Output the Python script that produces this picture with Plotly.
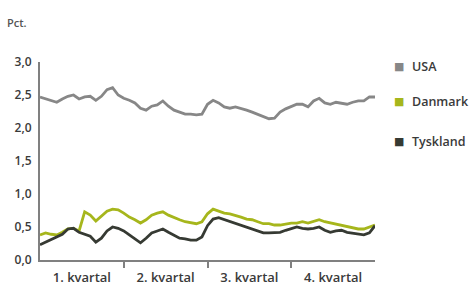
import plotly.graph_objects as go

# Observations (61 evenly spaced points across the year)
periods = list(range(61))
usa = [2.47, 2.44, 2.42, 2.39, 2.44, 2.48, 2.50, 2.44, 2.47, 2.48,
       2.42, 2.48, 2.58, 2.61, 2.50, 2.45, 2.42, 2.38, 2.30, 2.27,
       2.33, 2.35, 2.41, 2.33, 2.27, 2.24, 2.21, 2.21, 2.20, 2.21,
       2.36, 2.42, 2.38, 2.32, 2.30, 2.32, 2.30, 2.27, 2.24, 2.21,
       2.18, 2.14, 2.15, 2.24, 2.29, 2.32, 2.36, 2.36, 2.32, 2.41,
       2.45, 2.38, 2.36, 2.39, 2.38, 2.36, 2.39, 2.41, 2.41, 2.47, 2.47]
danmark = [0.38, 0.41, 0.39, 0.38, 0.42, 0.47, 0.48, 0.44, 0.73, 0.68,
           0.59, 0.67, 0.74, 0.77, 0.76, 0.71, 0.65, 0.61, 0.56, 0.61,
           0.68, 0.71, 0.73, 0.68, 0.64, 0.61, 0.58, 0.56, 0.55, 0.58,
           0.70, 0.77, 0.74, 0.71, 0.70, 0.68, 0.65, 0.62, 0.61, 0.58,
           0.55, 0.55, 0.53, 0.53, 0.55, 0.56, 0.56, 0.58, 0.56, 0.58,
           0.61, 0.58, 0.56, 0.55, 0.52, 0.50, 0.48, 0.47, 0.47, 0.50, 0.53]
tyskland = [0.23, 0.27, 0.30, 0.35, 0.39, 0.47, 0.48, 0.42, 0.39, 0.36,
            0.27, 0.33, 0.44, 0.50, 0.48, 0.44, 0.38, 0.32, 0.26, 0.33,
            0.41, 0.44, 0.47, 0.42, 0.38, 0.33, 0.32, 0.30, 0.30, 0.35,
            0.52, 0.62, 0.64, 0.61, 0.58, 0.55, 0.53, 0.50, 0.47, 0.44,
            0.41, 0.41, 0.42, 0.42, 0.45, 0.48, 0.50, 0.48, 0.47, 0.48,
            0.50, 0.45, 0.42, 0.44, 0.45, 0.42, 0.41, 0.39, 0.38, 0.41, 0.52]

quarter_labels = ["1. kvartal", "2. kvartal", "3. kvartal", "4. kvartal"]
quarter_centers = [7.5, 22.5, 37.5, 52.5]
quarter_bounds = [15, 30, 45]
y_ticks = [0.0, 0.5, 1.0, 1.5, 2.0, 2.5, 3.0]
y_ticktext = ["0,0", "0,5", "1,0", "1,5", "2,0", "2,5", "3,0"]

series = [("USA", usa, "#878787"), ("Danmark", danmark, "#a6b61c"), ("Tyskland", tyskland, "#363a33")]

FONT = "'Open Sans', Lato, sans-serif"
TXT = "#3a3a3a"
fig = go.Figure()
for name, vals, col in series:
    fig.add_trace(go.Scatter(x=periods, y=vals, mode="lines", name=name,
                             line=dict(color=col, width=2.8), showlegend=False,
                             hoverinfo="skip"))

# Legend as annotations
legend_y = [0.975, 0.80, 0.60]
for (name, vals, col), ly in zip(series, legend_y):
    fig.add_annotation(xref="paper", yref="paper", x=1.052, y=ly, text="■",
                       showarrow=False, xanchor="left", yanchor="middle",
                       font=dict(size=11, color=col, family="DejaVu Sans"))
    fig.add_annotation(xref="paper", yref="paper", x=1.103, y=ly, text=name,
                       showarrow=False, xanchor="left", yanchor="middle",
                       font=dict(size=12.5, color=TXT, family=FONT, weight=600))

fig.add_annotation(xref="paper", yref="paper", x=-0.103, y=1.2, text="Pct.",
                   showarrow=False, xanchor="left", yanchor="middle",
                   font=dict(size=11, color="#555555", family=FONT, weight=600))

fig.update_layout(
    width=475, height=289,
    margin=dict(l=40, r=100, t=62, b=29, autoexpand=False),
    plot_bgcolor="white", paper_bgcolor="white",
    font=dict(family=FONT, size=12, color=TXT),
    hovermode=False,
    xaxis=dict(range=[0, 60], showgrid=False, zeroline=False,
               showline=True, linecolor="#808080", linewidth=2,
               tickmode="array", tickvals=quarter_centers, ticktext=quarter_labels,
               ticks="", ticklen=0, ticklabelstandoff=4,
               minor=dict(tickmode="array", tickvals=quarter_bounds, ticks="outside",
                          ticklen=6, tickcolor="#808080", tickwidth=2),
               tickfont=dict(size=13, color=TXT, family=FONT, weight=600)),
    yaxis=dict(range=[0, 3], showgrid=False, zeroline=False,
               showline=True, linecolor="#808080", linewidth=2,
               tickmode="array", tickvals=y_ticks, ticktext=y_ticktext, ticks="",
               ticklabelstandoff=4,
               tickfont=dict(size=12, color=TXT, family=FONT, weight=600)),
)

fig.write_html("out.html", config={"displayModeBar": False},
               post_script="document.body.style.margin='0';")
